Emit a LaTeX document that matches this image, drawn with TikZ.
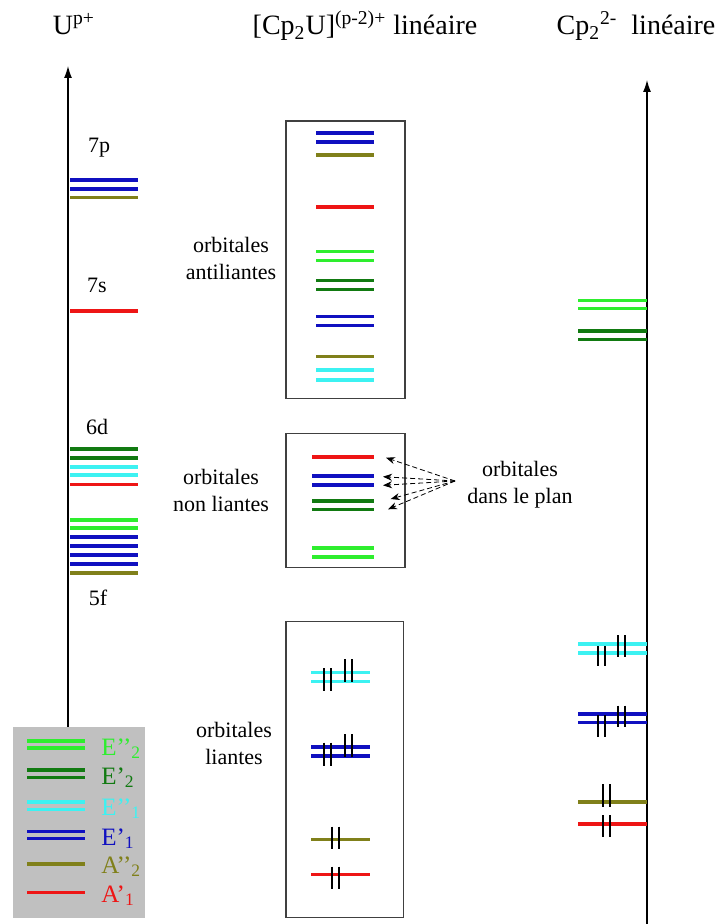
\documentclass[tikz,border=0pt]{standalone}
\usepackage{fontspec}
\setmainfont{Liberation Serif}
\usepackage{tikz}
\usetikzlibrary{
  arrows.meta,
  positioning
}
\definecolor{OrbGreen}{HTML}{2EEE2E}
\definecolor{OrbDkGreen}{HTML}{117A11}
\definecolor{OrbCyan}{HTML}{3CF2F2}
\definecolor{OrbBlue}{HTML}{1010C0}
\definecolor{OrbOlive}{HTML}{80801A}
\definecolor{OrbRed}{HTML}{EE1515}
\definecolor{LegendGray}{HTML}{C0C0C0}
\tikzset{
  niveau/.style={line width=1.8pt},
  electron/.style={line width=1.1pt,black},
  cadre/.style={draw=black!75,line width=0.6pt},
  titre/.style={font=\fontsize{14}{17}\selectfont,anchor=base},
  etiq/.style={font=\fontsize{11}{13.5}\selectfont,align=center},
  legende/.style={font=\fontsize{12.5}{15}\selectfont,anchor=base west,inner sep=0pt}
}
\newcommand{\paire}[3]{\draw[electron] (#1,#2) -- (#1,#3) (#1+7,#2) -- (#1+7,#3);}

\begin{document}
\begin{tikzpicture}[x=0.5pt,y=-0.5pt]
  \useasboundingbox (0,0) rectangle (721,924);

  % titres
  \node[titre] (tU) at (74,35) {U\textsuperscript{p+}};
  \node[titre] (tCpU) at (365,35) {[Cp\textsubscript{2}U]\textsuperscript{(p-2)+} linéaire};
  \node[titre] (tCp) at (636,35) {Cp\textsubscript{2}\textsuperscript{2-}\ \ linéaire};

  % axes
  \draw[line width=0.6pt,-{Latex[length=6pt,width=4pt]}] (68,727) -- (68,66);
  \draw[line width=0.6pt,-{Latex[length=6pt,width=4pt]}] (647,924) -- (647,80);

  % U p+
  \foreach \y/\c in {180/OrbBlue,189/OrbBlue,197.7/OrbOlive,311/OrbRed,
      449/OrbDkGreen,457.7/OrbDkGreen,466.7/OrbCyan,475/OrbCyan,484.3/OrbRed,
      520/OrbGreen,528/OrbGreen,537/OrbBlue,546/OrbBlue,555/OrbBlue,564/OrbBlue,572.7/OrbOlive}
    \draw[niveau,\c] (70,\y) -- (138,\y);
  \node[etiq,anchor=base] (n7p) at (99,153) {7p};
  \node[etiq,anchor=base] (n7s) at (97,293) {7s};
  \node[etiq,anchor=base] (n6d) at (97,434) {6d};
  \node[etiq,anchor=base] (n5f) at (98,605) {5f};

  % Cp2U : antiliantes
  \draw[cadre] (286,121) rectangle (405,398.7);
  \foreach \y/\c in {133.3/OrbBlue,142.3/OrbBlue,155.3/OrbOlive,207/OrbRed,
      251.7/OrbGreen,260.7/OrbGreen,280.7/OrbDkGreen,289.7/OrbDkGreen,
      316.7/OrbBlue,325.7/OrbBlue,356.7/OrbOlive,370.3/OrbCyan,379.7/OrbCyan}
    \draw[niveau,\c] (316,\y) -- (374,\y);
  \node[etiq] (anti) at (231,258) {orbitales\\antiliantes};

  % non liantes
  \draw[cadre] (286,433.3) rectangle (405,567.3);
  \foreach \y/\c in {456.7/OrbRed,476/OrbBlue,485/OrbBlue,500.7/OrbDkGreen,
      509.3/OrbDkGreen,547.7/OrbGreen,556.7/OrbGreen}
    \draw[niveau,\c] (312,\y) -- (374,\y);
  \node[etiq] (nonl) at (221,490) {orbitales\\non liantes};

  % liantes
  \draw[cadre] (286,621.7) rectangle (403.3,917.7);
  \foreach \y/\c in {672.3/OrbCyan,681.3/OrbCyan,747/OrbBlue,755.7/OrbBlue,
      839.3/OrbOlive,874.3/OrbRed}
    \draw[niveau,\c] (311,\y) -- (370,\y);
  \paire{323.7}{668}{691} \paire{345.3}{659.3}{681.7}
  \paire{323.7}{742.7}{765.7} \paire{345.3}{734.3}{756.7}
  \paire{332.3}{826.7}{849.3} \paire{332.3}{866.7}{888.7}
  \node[etiq] (liant) at (234,743) {orbitales\\liantes};

  % orbitales dans le plan
  \node[etiq] (plan) at (520,485) {orbitales\\dans le plan};
  \coordinate (src) at (455,481);
  \coordinate (p1) at (386,457.7);
  \coordinate (p2) at (383,476.7);
  \coordinate (p3) at (383,485.3);
  \coordinate (p4) at (390.7,499);
  \coordinate (p5) at (388,509.3);
  \foreach \p in {p1,p2,p3,p4,p5}
    \draw[line width=0.4pt,dash pattern=on 2.5pt off 1.5pt,-{Stealth[length=4.5pt,width=3.5pt]}] (src) -- (\p);

  % Cp2 2-
  \foreach \y/\c in {300.7/OrbGreen,308.7/OrbGreen,331.3/OrbDkGreen,339.7/OrbDkGreen,
      644/OrbCyan,652.7/OrbCyan,713.7/OrbBlue,722.3/OrbBlue,801.7/OrbOlive,823.7/OrbRed}
    \draw[niveau,\c] (578,\y) -- (647,\y);
  \paire{597.7}{646}{665.7} \paire{617.7}{635}{657.3}
  \paire{597.7}{715}{736.7} \paire{617.7}{705.7}{727.3}
  \paire{603.3}{784}{807} \paire{603.3}{815}{837.3}

  % legende
  \fill[LegendGray] (13,727) rectangle (145,918);
  \foreach \y/\c in {741/OrbGreen,748/OrbGreen,770/OrbDkGreen,777.3/OrbDkGreen,
      802/OrbCyan,809.3/OrbCyan,831.3/OrbBlue,838.3/OrbBlue,864/OrbOlive,892.3/OrbRed}
    \draw[niveau,\c] (27,\y) -- (85,\y);
  \node[legende,OrbGreen] (lE2s) at (101,755) {E{'}{'}\textsubscript{2}};
  \node[legende,OrbDkGreen] (lE2) at (101,784) {E{'}\textsubscript{2}};
  \node[legende,OrbCyan] (lE1s) at (101,815) {E{'}{'}\textsubscript{1}};
  \node[legende,OrbBlue] (lE1) at (101,845) {E{'}\textsubscript{1}};
  \node[legende,OrbOlive] (lA2) at (101,873) {A{'}{'}\textsubscript{2}};
  \node[legende,OrbRed] (lA1) at (101,902) {A{'}\textsubscript{1}};
\end{tikzpicture}
\end{document}
